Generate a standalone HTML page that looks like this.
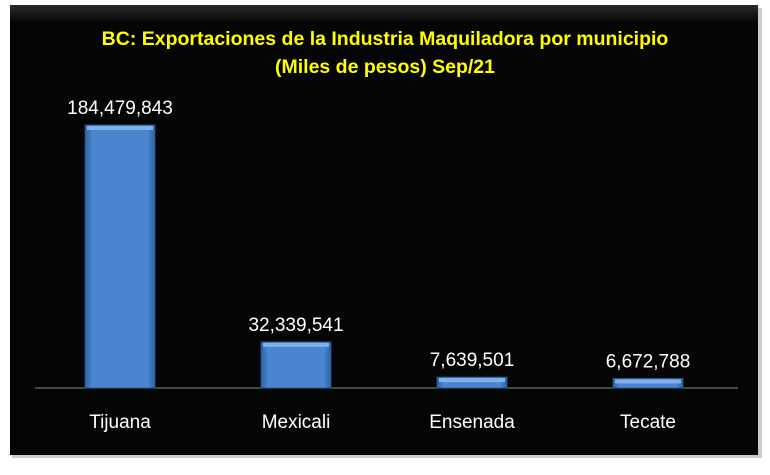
<!DOCTYPE html>
<html><head><meta charset="utf-8"><style>
body{margin:0;width:770px;height:470px;background:#fff;overflow:hidden;font-family:"Liberation Sans",sans-serif}
</style></head><body>
<svg width="770" height="470">
<defs>
<linearGradient id="bg" x1="0" x2="0" y1="0" y2="1"><stop offset="0" stop-color="#2a2a2a"/><stop offset="0.04" stop-color="#050505"/><stop offset="1" stop-color="#050505"/></linearGradient>
<linearGradient id="bar" x1="0" x2="1" y1="0" y2="0"><stop offset="0" stop-color="#2f5f9e"/><stop offset="0.1" stop-color="#4a86d0"/><stop offset="0.9" stop-color="#4a86d0"/><stop offset="1" stop-color="#2f5f9e"/></linearGradient>
</defs>
<rect x="12" y="8" width="750" height="450" fill="#999" opacity="0.5"/>
<rect x="10" y="5" width="748" height="450" fill="url(#bg)"/>
<text x="385" y="45" fill="#ffff00" font-weight="bold" font-size="19.5" text-anchor="middle">BC: Exportaciones de la Industria Maquiladora por municipio</text>
<text x="385" y="73" fill="#ffff00" font-weight="bold" font-size="19.5" text-anchor="middle">(Miles de pesos) Sep/21</text>
<line x1="35" x2="738" y1="388" y2="388" stroke="#888" stroke-width="1"/>
<g id="bars"></g>
</svg>
<script>
const categories=["Tijuana","Mexicali","Ensenada","Tecate"];
const values=[184479843,32339541,7639501,6672788];
const labels=["184,479,843","32,339,541","7,639,501","6,672,788"];
const NS="http://www.w3.org/2000/svg";
const g=document.getElementById("bars");
const y0=388, scale=263/184479843;
const xc=i=>120+176*i;
const y=v=>y0-v*scale;
categories.forEach((c,i)=>{
  const top=y(values[i]), h=y0-top;
  const r=document.createElementNS(NS,"rect");
  r.setAttribute("x",xc(i)-35);r.setAttribute("y",top);r.setAttribute("width",70);r.setAttribute("height",h);
  r.setAttribute("fill","url(#bar)");r.setAttribute("stroke","#2a568f");r.setAttribute("stroke-width","0.8");
  
  
  g.appendChild(r);
  const hl=document.createElementNS(NS,"rect");
  hl.setAttribute("x",xc(i)-33);hl.setAttribute("y",top+1);hl.setAttribute("width",66);hl.setAttribute("height",Math.min(4,h-2));
  hl.setAttribute("fill","#7fb0ea");
  
  
  g.appendChild(hl);
  const t=document.createElementNS(NS,"text");
  t.setAttribute("x",xc(i));t.setAttribute("y",top-11);t.setAttribute("fill","#fff");t.setAttribute("font-size","19");t.setAttribute("text-anchor","middle");
  t.textContent=labels[i];
  
  
  g.appendChild(t);
  const l=document.createElementNS(NS,"text");
  l.setAttribute("x",xc(i));l.setAttribute("y",428);l.setAttribute("fill","#fff");l.setAttribute("font-size","19");l.setAttribute("text-anchor","middle");
  l.textContent=c;
  
  
  g.appendChild(l);
});
</script>
</body></html>
